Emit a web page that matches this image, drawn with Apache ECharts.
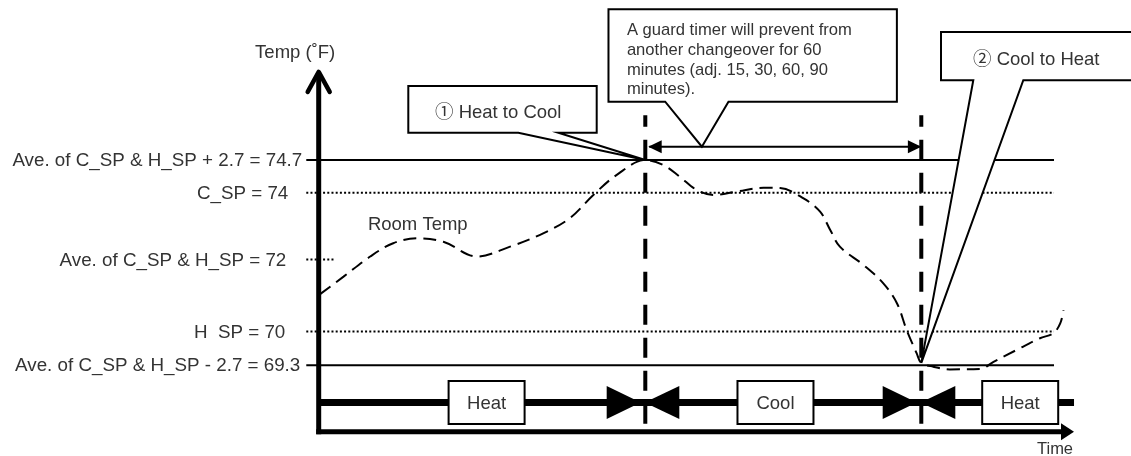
<!DOCTYPE html>
<html>
<head>
<meta charset="utf-8">
<script src="https://cdn.jsdelivr.net/npm/echarts@6/dist/echarts.min.js"></script>
<style>
html,body{margin:0;padding:0;background:#fff;}
#chart{width:1131px;height:456px;}
</style>
</head>
<body>
<div id="chart"></div>
<script>
// ================= DATA =================
// Setpoint levels (labels as printed) and their schematic plotted positions (°F)
const levelLabels = [
  'Ave. of C_SP & H_SP + 2.7 = 74.7',
  'C_SP = 74',
  'Ave. of C_SP & H_SP = 72',
  'H  SP = 70',
  'Ave. of C_SP & H_SP - 2.7 = 69.3'
];
const levelValues = [74.7, 73.84, 72.08, 70.19, 69.3];

// Room temperature trace (time in minutes, temperature in °F)
const roomTempTime = [0.3, 5.4, 11.2, 16.2, 21.3, 27.1, 34.4, 41.6, 48.8, 54.6, 59.7, 64.8, 71,
  74.9, 78.5, 82.2, 85.8, 90.9, 96.7, 100.3, 105.4, 109, 111.2, 113.3, 118.4, 122.7, 125.7, 127.8,
  130, 131, 133.6, 137.2, 143.8, 146.7, 151.7, 156.8, 159.7, 161.2, 161.9];
const roomTempValue = [71.17, 71.63, 72.16, 72.51, 72.64, 72.55, 72.16, 72.42, 72.77, 73.17, 73.78, 74.31, 74.7,
  74.57, 74.26, 73.91, 73.78, 73.87, 73.97, 73.96, 73.69, 73.34, 72.86, 72.42, 71.94, 71.46, 70.93, 70.23,
  69.61, 69.36, 69.26, 69.19, 69.2, 69.39, 69.7, 70.01, 70.14, 70.4, 70.75];

// Changeover events (minutes) and their callout texts
const changeoverTimes = [71, 131];
const changeoverLabels = ['\u2460 Heat to Cool', '\u2461 Cool to Heat'];
const guardTimerText = 'A guard timer will prevent from\nanother changeover for 60\nminutes (adj. 15, 30, 60, 90\nminutes).';

// Operating modes along the time line
const modeNames = ['Heat', 'Cool', 'Heat'];
const modeLabelTimes = [36.5, 99.3, 152.5];

// Axis titles / series name
const yAxisTitle = 'Temp (\u02DAF)';
const xAxisTitle = 'Time';
const roomTempName = 'Room Temp';

// ================= LAYOUT / STYLE =================
const FONT = "'Liberation Sans', Arial, 'Noto Sans CJK JP', sans-serif";
const TXT = '#333';
const INK = '#000';
const X_MIN = 0, X_MAX = 164, Y_MIN = 67.5, Y_MAX = 77;
const AXIS_V = 67.55;      // level of the time axis line
const BAND_V = 68.32;      // level of the mode band
const Y_TIP_V = 77.07;     // top of the temperature axis arrow
const X_TIP_T = 164.2;     // tip of the time axis arrow
const BAND_END_T = 164.2;
const LEVEL_FROM = -2.7;
const LEVEL_TO = [159.85, 159.85, 3.3, 159.85, 159.85];
const LEVEL_DOTTED = [false, true, true, true, false];
const LABEL_GAP = [4, 18, 20, 21, 6];
const VLINE_TOP_V = 75.88, VLINE_BOTTOM_V = 67.73;
const GUARD_V = 75.05;
const GUARD_TIP_T = 83.3;
const ROOM_LABEL_AT = [10.7, 72.99];

function renderLevel(params, api) {
  const i = api.value(2);
  const v = api.value(1);
  const p0 = api.coord([LEVEL_FROM, v]);
  const p1 = api.coord([LEVEL_TO[i], v]);
  const style = { stroke: INK, lineWidth: 2 };
  if (LEVEL_DOTTED[i]) style.lineDash = [2, 2.2];
  return { type: 'group', children: [
    { type: 'line', shape: { x1: p0[0], y1: p0[1], x2: p1[0], y2: p1[1] }, style: style },
    { type: 'text', style: { text: levelLabels[i], x: p0[0] - LABEL_GAP[i], y: p0[1] + 1,
      align: 'right', verticalAlign: 'middle', fill: TXT, fontSize: 18.8, fontFamily: FONT } }
  ]};
}

function renderFrame(params, api) {
  const base = api.coord([0, AXIS_V]);
  const xTip = api.coord([X_TIP_T, AXIS_V]);
  const yTip = api.coord([0, Y_TIP_V]);
  const band = api.coord([BAND_END_T, BAND_V]);
  const rl = api.coord(ROOM_LABEL_AT);
  const x0 = base[0], yA = base[1], yt = yTip[1];
  return { type: 'group', children: [
    { type: 'line', shape: { x1: x0, y1: yA + 2.5, x2: x0, y2: yt + 3 }, style: { stroke: INK, lineWidth: 5 } },
    { type: 'polyline', shape: { points: [[x0 - 11, yt + 22], [x0, yt + 2], [x0 + 11, yt + 22]] },
      style: { stroke: INK, lineWidth: 4.5, fill: null, lineJoin: 'round', lineCap: 'round' } },
    { type: 'line', shape: { x1: x0 - 2.5, y1: yA, x2: xTip[0] - 12, y2: yA }, style: { stroke: INK, lineWidth: 5 } },
    { type: 'polygon', shape: { points: [[xTip[0] - 13, yA - 8.5], [xTip[0], yA], [xTip[0] - 13, yA + 8.5]] }, style: { fill: INK } },
    { type: 'line', shape: { x1: x0, y1: band[1], x2: band[0], y2: band[1] }, style: { stroke: INK, lineWidth: 7 } },
    { type: 'text', style: { text: yAxisTitle, x: x0 - 23.5, y: yt - 17, align: 'center', verticalAlign: 'middle',
      fill: TXT, fontSize: 18.5, fontFamily: FONT } },
    { type: 'text', style: { text: xAxisTitle, x: xTip[0] - 19, y: yA + 17.5, align: 'center', verticalAlign: 'middle',
      fill: TXT, fontSize: 16.5, fontFamily: FONT } },
    { type: 'text', style: { text: roomTempName, x: rl[0], y: rl[1], align: 'left', verticalAlign: 'middle',
      fill: TXT, fontSize: 18.5, fontFamily: FONT } }
  ]};
}

function renderChangeover(params, api) {
  const t = api.value(0);
  const top = api.coord([t, VLINE_TOP_V]);
  const bot = api.coord([t, VLINE_BOTTOM_V]);
  const b = api.coord([t, BAND_V]);
  const cx = top[0], y = b[1];
  return { type: 'group', children: [
    { type: 'polygon', shape: { points: [[cx - 38.6, y - 16.5], [cx - 38.6, y + 16.5], [cx - 4.6, y]] }, style: { fill: INK } },
    { type: 'polygon', shape: { points: [[cx - 0.6, y], [cx + 34, y - 16.5], [cx + 34, y + 16.5]] }, style: { fill: INK } },
    { type: 'line', shape: { x1: cx, y1: top[1], x2: cx, y2: bot[1] },
      style: { stroke: INK, lineWidth: 4, lineDash: [20, 13], lineDashOffset: 8.3 } }
  ]};
}

function renderMode(params, api) {
  const p = api.coord([api.value(0), api.value(1)]);
  const i = api.value(2);
  const w = 76, h = 43;
  return { type: 'group', children: [
    { type: 'rect', shape: { x: p[0] - w / 2, y: p[1] - h / 2, width: w, height: h },
      style: { fill: '#fff', stroke: INK, lineWidth: 2 } },
    { type: 'text', style: { text: modeNames[i], x: p[0], y: p[1] + 1, align: 'center', verticalAlign: 'middle',
      fill: TXT, fontSize: 18.5, fontFamily: FONT } }
  ]};
}

function renderGuard(params, api) {
  const a = api.coord([api.value(0), api.value(2)]);
  const b = api.coord([api.value(1), api.value(2)]);
  const y = a[1];
  return { type: 'group', children: [
    { type: 'line', shape: { x1: a[0] + 4, y1: y, x2: b[0] - 2, y2: y }, style: { stroke: INK, lineWidth: 2 } },
    { type: 'polygon', shape: { points: [[a[0] + 3, y], [a[0] + 16.4, y - 6.5], [a[0] + 16.4, y + 6.5]] }, style: { fill: INK } },
    { type: 'polygon', shape: { points: [[b[0], y], [b[0] - 13.4, y - 6.5], [b[0] - 13.4, y + 6.5]] }, style: { fill: INK } }
  ]};
}

// callout geometry relative to its pointer tip (pixels)
const CALLOUT_GEOM = [
  { L: -237, R: -48.6, T: -74, B: -27.3, p1: -127, p2: -87, tx: -210.3, ty: -46.7, fs: 18.5, lh: 22, va: 'middle' },
  { L: -93.4, R: 195, T: -137.4, B: -45, p1: -36.7, p2: 26.6, tx: -75, ty: -125.9, fs: 16.6, lh: 19.7, va: 'top' },
  { L: 19.7, R: 240, T: -331, B: -282.7, p1: 52, p2: 102, tx: 51.7, ty: -302.7, fs: 18.5, lh: 22, va: 'middle' }
];
const calloutTexts = [changeoverLabels[0], guardTimerText, changeoverLabels[1]];
const calloutTips = [[changeoverTimes[0], levelValues[0]], [GUARD_TIP_T, GUARD_V], [changeoverTimes[1], 69.36]];

function renderCallout(params, api) {
  const i = api.value(2);
  const g = CALLOUT_GEOM[i];
  const tip = api.coord([api.value(0), api.value(1)]);
  const x = tip[0], y = tip[1];
  const pts = [[x + g.L, y + g.T], [x + g.R, y + g.T], [x + g.R, y + g.B], [x + g.p2, y + g.B], [x, y],
               [x + g.p1, y + g.B], [x + g.L, y + g.B]];
  return { type: 'group', children: [
    { type: 'polygon', shape: { points: pts }, style: { fill: '#fff', stroke: INK, lineWidth: 2, lineJoin: 'miter' } },
    { type: 'text', style: { text: calloutTexts[i], x: x + g.tx, y: y + g.ty, align: 'left', verticalAlign: g.va,
      lineHeight: g.lh, fill: TXT, fontSize: g.fs, fontFamily: FONT } }
  ]};
}

const chart = echarts.init(document.getElementById('chart'), null, { renderer: 'canvas' });
chart.setOption({
  backgroundColor: '#fff',
  animation: false,
  grid: { left: 318.7, right: 57.9, top: 72.6, bottom: 22.4, containLabel: false, outerBoundsMode: 'none' },
  xAxis: { type: 'value', min: X_MIN, max: X_MAX, show: false },
  yAxis: { type: 'value', min: Y_MIN, max: Y_MAX, show: false },
  series: [
    { type: 'custom', name: 'levels', renderItem: renderLevel, z: 2, silent: true,
      data: levelValues.map((v, i) => [LEVEL_FROM, v, i]) },
    { type: 'line', name: roomTempName, z: 3, smooth: 0.35, symbol: 'none', showSymbol: false, clip: false,
      lineStyle: { color: INK, width: 2, type: [13, 7] },
      data: roomTempTime.map((t, i) => [t, roomTempValue[i]]) },
    { type: 'custom', name: 'frame', renderItem: renderFrame, z: 4, silent: true, data: [[0, AXIS_V]] },
    { type: 'custom', name: 'changeovers', renderItem: renderChangeover, z: 5, silent: true,
      data: changeoverTimes.map(t => [t, BAND_V]) },
    { type: 'custom', name: 'modes', renderItem: renderMode, z: 6, silent: true,
      data: modeLabelTimes.map((t, i) => [t, BAND_V, i]) },
    { type: 'custom', name: 'guard', renderItem: renderGuard, z: 5, silent: true,
      data: [[changeoverTimes[0], changeoverTimes[1], GUARD_V]] },
    { type: 'custom', name: 'callouts', renderItem: renderCallout, z: 10, silent: true,
      data: calloutTips.map((p, i) => [p[0], p[1], i]) }
  ]
});
</script>
</body>
</html>
